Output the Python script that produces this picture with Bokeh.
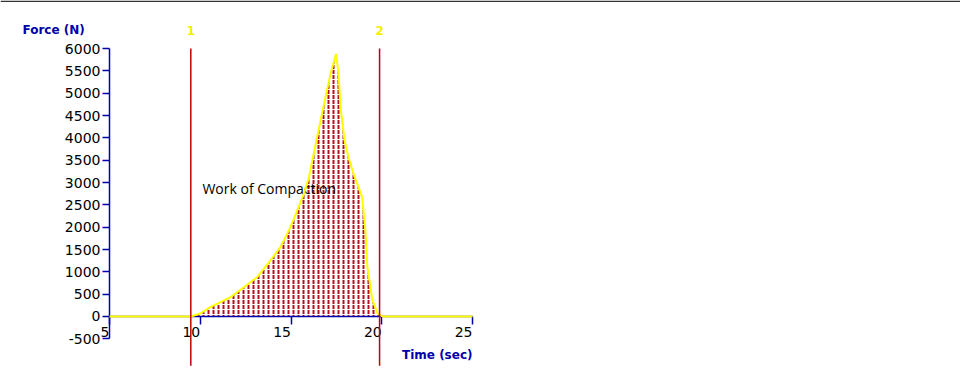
from bokeh.plotting import figure
from bokeh.models import LinearAxis, FixedTicker, Range1d, Label, BoxAnnotation
from bokeh.core.properties import value
from bokeh.embed import file_html
from bokeh.resources import INLINE

# ---------------- data ----------------
time_sec = [5, 9.5, 10.0, 10.56, 11.67, 12.40, 13.14, 13.87, 14.42, 14.97, 15.34, 15.71,
            15.98, 16.44, 16.9, 17.18, 17.48, 17.62, 17.73, 17.84, 17.95, 18.17, 18.44,
            18.72, 18.92, 19.01, 19.1, 19.21, 19.49, 19.77, 20.04, 25]
force_n = [0, 0, 67, 208, 432, 656, 880, 1254, 1552, 2000, 2373, 2747,
           3100, 4015, 4910, 5434, 5880, 5440, 4680, 4320, 3940, 3560, 3200,
           2890, 2670, 2300, 1925, 1100, 360, 70, 0, 0]
marker_times = [9.48, 19.88]
marker_labels = ["1", "2"]
x_ticks = [5, 10, 15, 20, 25]
x_tick_labels = ["5", "10", "15", "20", "25"]
y_ticks = [-500, 0, 500, 1000, 1500, 2000, 2500, 3000, 3500, 4000, 4500, 5000, 5500, 6000]

BLUE = "#0000AA"
TICK_FONT = "DejaVu Sans"

p = figure(width=960, height=380, output_backend="svg", toolbar_location=None,
           x_range=Range1d(-1.0055, 51.887), y_range=Range1d(-1433, 7075),
           x_axis_location=None, y_axis_location=None,
           min_border_left=0, min_border_right=0, min_border_top=0, min_border_bottom=0)
p.outline_line_color = None
p.xgrid.visible = False
p.ygrid.visible = False
p.background_fill_color = "white"
p.border_fill_color = "white"

# y axis at time = 5
yaxis = LinearAxis(ticker=FixedTicker(ticks=y_ticks), bounds=(-500, 6000), fixed_location=5)
yaxis.axis_line_color = BLUE
yaxis.axis_line_width = 1.5
yaxis.major_tick_line_color = BLUE
yaxis.major_tick_line_width = 1.5
yaxis.major_tick_out = 7
yaxis.major_tick_in = 0
yaxis.minor_tick_line_color = None
yaxis.major_label_standoff = 2
yaxis.major_label_text_font = TICK_FONT
yaxis.major_label_text_font_size = "14px"
yaxis.major_label_text_color = "black"
yaxis.major_label_overrides = {-500: "-500"}
p.add_layout(yaxis, "left")

# x axis at force = 0
xaxis = LinearAxis(ticker=FixedTicker(ticks=x_ticks), bounds=(5, 25), fixed_location=0)
xaxis.axis_line_color = BLUE
xaxis.axis_line_width = 1.5
xaxis.major_tick_line_color = BLUE
xaxis.major_tick_line_width = 1.5
xaxis.major_tick_out = 8
xaxis.major_tick_in = 0
xaxis.minor_tick_line_color = None
xaxis.major_label_overrides = {t: "" for t in x_ticks}
p.add_layout(xaxis, "below")

# x tick labels, right-aligned on their ticks
p.text(x=x_ticks, y=[0] * len(x_ticks), text=x_tick_labels, text_align="right",
       text_baseline="top", y_offset=11, text_font=value(TICK_FONT),
       text_font_size="14px", text_color="black")

# dotted area
p.varea(x=time_sec, y1=[0] * len(time_sec), y2=force_n, fill_color=None,
        hatch_pattern="vertical_dash", hatch_scale=5, hatch_weight=2,
        hatch_color="#B0101E")

p.text(x=[10.12], y=[2866], text=["Work of Compaction"], text_baseline="middle",
       text_font=value("Open Sans"), text_font_size="14px", text_color="black")

# force curve
p.line(time_sec, force_n, line_color="#FFFF00", line_width=2, level="overlay")

# event markers
p.segment(x0=marker_times, y0=[6000] * 2, x1=marker_times, y1=[-1100] * 2,
          line_color="#C00000", line_width=1.5, level="overlay")
p.text(x=marker_times, y=[6404] * 2, text=marker_labels, text_align="center",
       text_baseline="middle", text_font=value(TICK_FONT), text_font_style="bold",
       text_font_size="12px", text_color="#F0F000")

# axis titles
p.add_layout(Label(x=5, y=6404, x_offset=-87, text="Force (N)", text_align="left",
                   text_baseline="middle", text_font=TICK_FONT, text_font_style="bold",
                   text_font_size="12px", text_color=BLUE))
p.add_layout(Label(x=25, y=-873, text="Time (sec)", text_align="right",
                   text_baseline="middle", text_font=TICK_FONT, text_font_style="bold",
                   text_font_size="12px", text_color=BLUE))

# thin dark rule along the top of the picture
p.add_layout(BoxAnnotation(left=0, right=960, top=0, bottom=1.5,
                           left_units="canvas", right_units="canvas",
                           top_units="canvas", bottom_units="canvas",
                           fill_color="#333333", fill_alpha=1, line_color=None,
                           level="overlay"))

open("out.html", "w").write(file_html(p, INLINE))
